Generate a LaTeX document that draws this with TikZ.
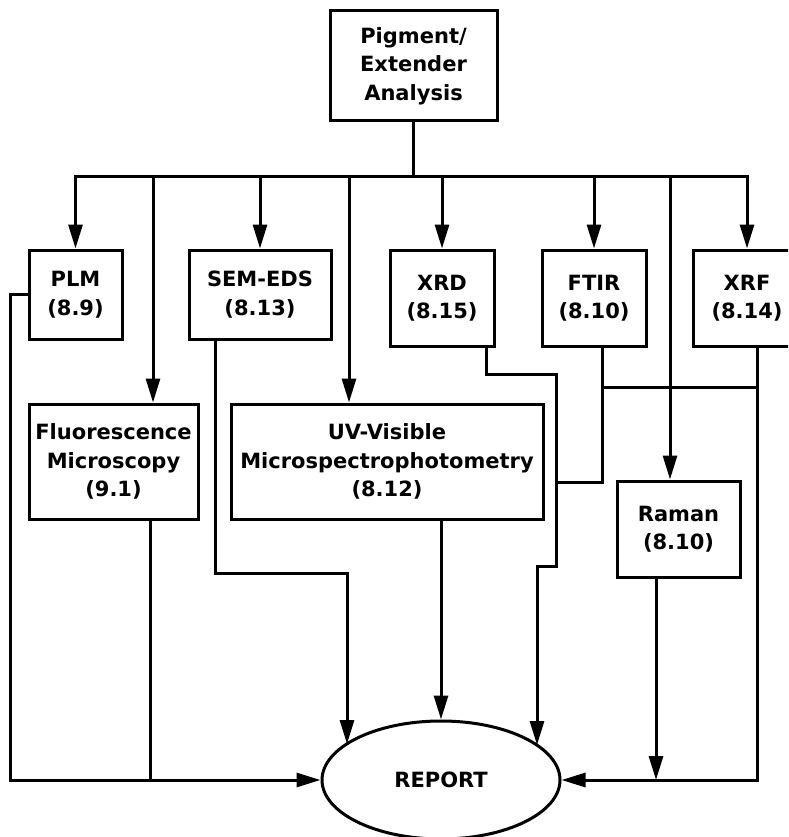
\documentclass[tikz,border=0pt]{standalone}
\usepackage{fontspec}
\setmainfont{DejaVu Sans}
\usetikzlibrary{shapes.geometric, arrows.meta, calc}
\tikzstyle{analysis} = [rectangle, minimum width=167pt, minimum height=110pt, align=center, draw=black, inner sep=0pt]
\tikzstyle{method} = [rectangle, align=center, draw=black, inner sep=0pt]
\tikzstyle{result} = [ellipse, minimum width=238pt, minimum height=118pt, draw=black, inner sep=0pt]
\tikzstyle{arrow} = [-{Triangle[length=24pt,width=14pt]}]
\tikzstyle{link} = [line cap=rect]

\begin{document}
\begin{tikzpicture}[x=1pt, y=-1pt, line width=3pt, font=\fontsize{21}{28.5}\selectfont\bfseries]
\clip (0,0) rectangle (788,837);
\node (pigment) [analysis] at (413.5,66) {Pigment/\\Extender\\Analysis};
\node (plm) [method, minimum width=93pt, minimum height=89pt] at (75.5,294.5) {PLM\\(8.9)};
\node (sem) [method, minimum width=142pt, minimum height=89pt] at (260,294.5) {SEM-EDS\\(8.13)};
\node (xrd) [method, minimum width=104pt, minimum height=96pt] at (442,298) {XRD\\(8.15)};
\node (ftir) [method, minimum width=104pt, minimum height=96pt] at (594,298) {FTIR\\(8.10)};
\node (xrf) [method, minimum width=108pt, minimum height=96pt] at (747,298) {XRF\\(8.14)};
\node (fluor) [method, minimum width=169pt, minimum height=115pt] at (113.5,461.5) {Fluorescence\\Microscopy\\(9.1)};
\node (uv) [method, minimum width=312pt, minimum height=115pt] at (387,461.5) {UV-Visible\\Microspectrophotometry\\(8.12)};
\node (raman) [method, minimum width=123pt, minimum height=96pt] at (678.5,529) {Raman\\(8.10)};
\node (report) [result] at (441,780) {REPORT};

% branches from the analysis box
\coordinate (bus) at (413.5,177);
\draw[link] (pigment.south) -- (bus);
\draw[link] (bus -| plm.north) -- (bus -| xrf.north);
\foreach \m in {plm, sem, xrd, ftir, xrf}
  \draw[arrow] (bus -| \m.north) -- (\m.north);
\coordinate (fluorin) at ([xshift=39.5pt]fluor.north);
\coordinate (uvin) at ([xshift=-38pt]uv.north);
\coordinate (ramanin) at ([xshift=-8.5pt]raman.north);
\foreach \m in {fluorin, uvin, ramanin}
  \draw[arrow] (bus -| \m) -- (\m);

% results to the report
\coordinate (semin) at ($(report.center)+(-94,-36)$);
\coordinate (xrdin) at ($(report.center)+(96,-35)$);
\coordinate (ftirout) at ([xshift=8pt]ftir.south);
\coordinate (xrfout) at ([xshift=10pt]xrf.south);
\draw[arrow] (plm.west) -- ++(-17,0) |- (report.west);
\draw[link] ([xshift=36.5pt]fluor.south) -- ([xshift=36.5pt]fluor.south |- report.west);
\draw[arrow] ([xshift=-45pt]sem.south) |- (semin |- 0,573) -- (semin);
\draw[arrow] (uv.south -| report.north) -- (report.north);
\draw[arrow] ([xshift=44pt]xrd.south) |- (556,374) |- (xrdin |- 0,566) -- (xrdin);
\draw[link] (ftirout) |- (556,482);
\draw[link] (ftirout |- 0,387) -- (xrfout |- 0,387);
\draw[arrow] (xrfout) |- (report.east);
\draw[arrow] ([xshift=-22.5pt]raman.south) -- ([xshift=-22.5pt]raman.south |- report.east);
\end{tikzpicture}
\end{document}
